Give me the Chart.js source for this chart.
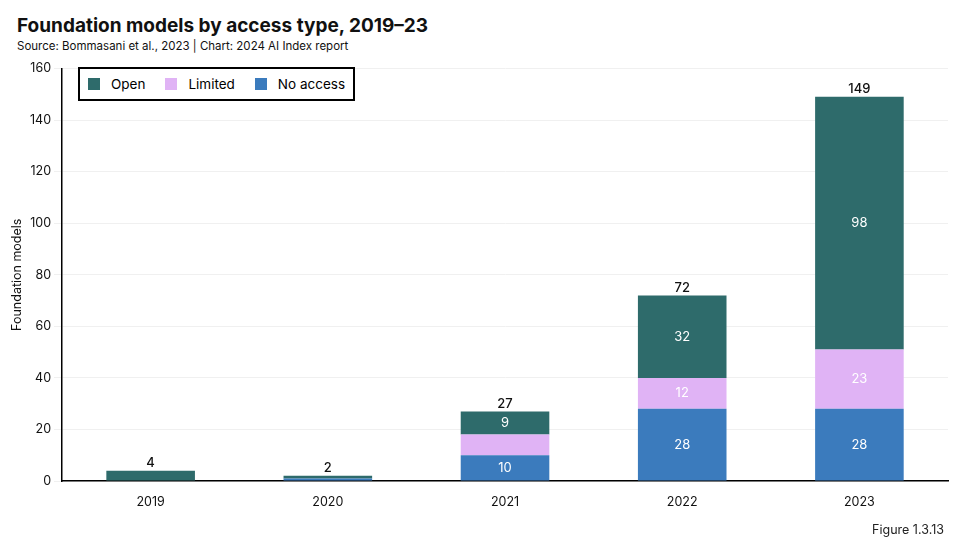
<!DOCTYPE html>
<html><head><meta charset="utf-8">
<script src="https://cdn.jsdelivr.net/npm/chart.js@4"></script>
<style>
body{margin:0;background:#fff;font-family:Inter,"Open Sans",sans-serif;}
#wrap{position:relative;width:960px;height:552px;}
h1{position:absolute;left:17px;top:14px;margin:0;font-size:19px;font-weight:700;color:#111;}
#src{position:absolute;left:17px;top:39px;font-size:11.5px;color:#111;}
#fig{position:absolute;right:16px;top:522px;font-size:12.5px;color:#222;}
#legend{position:absolute;left:78px;top:67px;border:2px solid #000;background:#fff;padding:7px 8px;font-size:13.5px;display:flex;gap:20px;}
#legend span{display:inline-flex;align-items:center;gap:11px;}
#legend i{display:inline-block;width:12px;height:12px;}
#cv{position:absolute;left:0;top:58px;}
</style></head><body>
<div id="wrap">
<h1>Foundation models by access type, 2019–23</h1>
<div id="src">Source: Bommasani et al., 2023 | Chart: 2024 AI Index report</div>
<canvas id="cv" width="960" height="466"></canvas>
<div id="legend"><span><i style="background:#2e6b6b"></i>Open</span><span><i style="background:#e0b3f5"></i>Limited</span><span><i style="background:#3b7bbd"></i>No access</span></div>
<div id="fig">Figure 1.3.13</div>
</div>
<script>
const years = ['2019', '2020', '2021', '2022', '2023'];
const noAccess = [0, 1, 10, 28, 28];
const limited = [0, 0, 8, 12, 23];
const open = [4, 1, 9, 32, 98];
const totals = [4, 2, 27, 72, 149];

const labelPlugin = {
  id: 'labels',
  afterDatasetsDraw(chart) {
    const ctx = chart.ctx;
    ctx.save();
    ctx.textAlign = 'center';
    ctx.textBaseline = 'middle';
    ctx.font = '13px Inter, sans-serif';
    chart.data.datasets.forEach((ds, di) => {
      chart.getDatasetMeta(di).data.forEach((bar, i) => {
        const v = ds.data[i];
        if (v < 9) return;
        ctx.fillStyle = '#fff';
        ctx.fillText(v, bar.x, (bar.y + bar.base) / 2);
      });
    });
    const top = chart.getDatasetMeta(2).data;
    ctx.fillStyle = '#111';
    ctx.textBaseline = 'bottom';
    ctx.font = '500 13px Inter, sans-serif';
    totals.forEach((t, i) => {
      ctx.fillText(t, top[i].x, chart.scales.y.getPixelForValue(t) - 1);
    });
    ctx.restore();
  }
};

new Chart(document.getElementById('cv'), {
  type: 'bar',
  data: {
    labels: years,
    datasets: [
      { label: 'No access', data: noAccess, backgroundColor: '#3b7bbd' },
      { label: 'Limited', data: limited, backgroundColor: '#e0b3f5' },
      { label: 'Open', data: open, backgroundColor: '#2e6b6b' }
    ]
  },
  options: {
    responsive: false,
    animation: false,
    layout: { padding: { left: 8, right: 12, top: 6, bottom: 8 } },
    datasets: { bar: { categoryPercentage: 1, barPercentage: 0.5 } },
    plugins: { legend: { display: false }, tooltip: { enabled: false } },
    scales: {
      x: {
        stacked: true,
        grid: { display: false },
        border: { color: '#000', width: 1.5 },
        ticks: { color: '#111', padding: 6, font: { size: 12.5, family: 'Inter' } }
      },
      y: {
        stacked: true,
        min: 0, max: 160,
        ticks: { stepSize: 20, color: '#111', font: { size: 12.5, family: 'Inter' } },
        grid: { color: '#f0f0f0' },
        border: { color: '#000', width: 1.5 },
        title: { display: true, text: 'Foundation models', color: '#111', padding: 2, font: { size: 12.5, family: 'Inter' } }
      }
    }
  },
  plugins: [labelPlugin]
});
</script>
</body></html>
